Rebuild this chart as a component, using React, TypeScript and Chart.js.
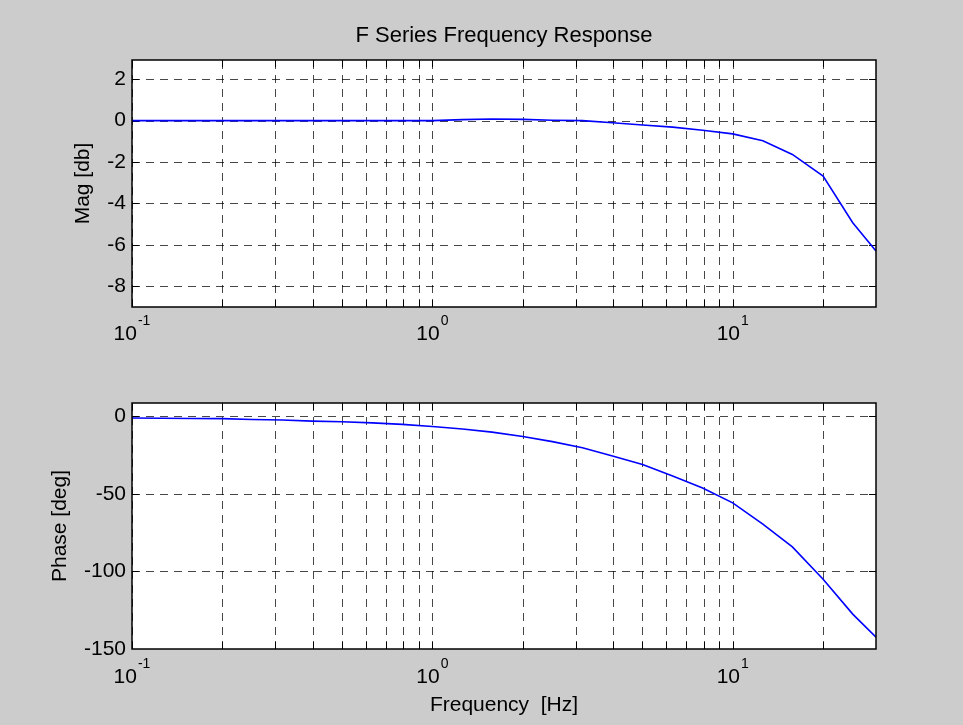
import React, { useEffect, useRef } from 'react';
import { Chart, registerables } from 'chart.js';

Chart.register(...registerables);

const FONT = '"Liberation Sans", Arial, Helvetica, sans-serif';

const TITLE = 'F Series Frequency Response';
const MAG_LABEL = 'Mag [db]';
const PHASE_LABEL = 'Phase [deg]';
const X_LABEL = 'Frequency  [Hz]';

// Data (log-spaced frequency samples)
const frequencyHz = [
  0.1, 0.126, 0.158, 0.2, 0.251, 0.316, 0.398, 0.501, 0.631, 0.794,
  1.0, 1.26, 1.58, 2.0, 2.51, 3.16, 3.98, 5.01, 6.31, 7.94,
  10, 12.6, 15.8, 20, 25.1, 30,
];
const magnitudeDb = [
  0, 0, 0, 0, 0, 0, 0, 0, 0, 0,
  0, 0.05, 0.08, 0.06, 0.02, 0.0, -0.1, -0.21, -0.31, -0.46,
  -0.64, -0.97, -1.63, -2.68, -4.93, -6.29,
];
const phaseDeg = [
  -1.1, -1.2, -1.4, -1.5, -2.0, -2.4, -3.1, -3.5, -4.2, -5.2,
  -6.6, -8.2, -10.2, -13, -16.3, -20.3, -25.6, -31.1, -38.5, -46.2,
  -55.8, -69.5, -84.2, -105, -127.5, -142.3,
];

const xGridTicks = [
  0.1, 0.2, 0.3, 0.4, 0.5, 0.6, 0.7, 0.8, 0.9,
  1, 2, 3, 4, 5, 6, 7, 8, 9,
  10, 20, 30,
];
const xDecadeValues = [0.1, 1, 10];
const xDecadeExponents = ['-1', '0', '1'];
const magTicks = [-8, -6, -4, -2, 0, 2];
const phaseTicks = [-150, -100, -50, 0];

const X_MIN = 0.1;
const X_MAX = 30;
const MAG_MIN = -9;
const MAG_MAX = 2.93;
const PHASE_MIN = -150;
const PHASE_MAX = 8.6;

const W = 963;
const H = 725;
const PLOT_LEFT = 132;
const PLOT_RIGHT = 876;

type PanelOpts = {
  top: number;
  bottom: number;
  yMin: number;
  yMax: number;
  yTicks: number[];
  values: number[];
  yLabel: string;
  yLabelBaselineX: number;
  decadeBaseline: number;
  showTitle: boolean;
  showXLabel: boolean;
};

function drawPower(ctx: CanvasRenderingContext2D, cx: number, baseline: number, exp: string) {
  ctx.font = `21px ${FONT}`;
  const wb = ctx.measureText('10').width;
  ctx.font = `14px ${FONT}`;
  const we = ctx.measureText(exp).width;
  const total = wb + 1 + we;
  const left = cx - total / 2;
  ctx.textAlign = 'left';
  ctx.textBaseline = 'alphabetic';
  ctx.font = `21px ${FONT}`;
  ctx.fillText('10', left, baseline);
  ctx.font = `14px ${FONT}`;
  ctx.fillText(exp, left + wb + 1, baseline - 15);
}

function makePlugin(p: PanelOpts) {
  return {
    id: 'matlabAxes',
    beforeDraw(chart: any) {
      const { ctx, chartArea: a } = chart;
      ctx.save();
      ctx.fillStyle = '#ffffff';
      ctx.fillRect(a.left, a.top, a.right - a.left, a.bottom - a.top);
      ctx.restore();
    },
    beforeDatasetsDraw(chart: any) {
      const { ctx, chartArea: a } = chart;
      const xs = chart.scales.x;
      const ys = chart.scales.y;
      ctx.save();
      ctx.beginPath();
      ctx.rect(a.left, a.top, a.right - a.left, a.bottom - a.top);
      ctx.clip();
      ctx.strokeStyle = 'rgba(0,0,0,0.72)';
      ctx.lineWidth = 1;
      ctx.setLineDash([8, 6]);
      for (const v of xGridTicks) {
        const x = Math.round(xs.getPixelForValue(v)) + 0.5;
        ctx.beginPath();
        ctx.moveTo(x, a.bottom);
        ctx.lineTo(x, a.top);
        ctx.stroke();
      }
      for (const v of p.yTicks) {
        const y = Math.round(ys.getPixelForValue(v)) + 0.5;
        ctx.beginPath();
        ctx.moveTo(a.left, y);
        ctx.lineTo(a.right, y);
        ctx.stroke();
      }
      // inward tick marks
      ctx.setLineDash([]);
      ctx.strokeStyle = '#000000';
      const tl = 7;
      for (const v of xGridTicks) {
        const x = Math.round(xs.getPixelForValue(v)) + 0.5;
        ctx.beginPath();
        ctx.moveTo(x, a.bottom);
        ctx.lineTo(x, a.bottom - tl);
        ctx.moveTo(x, a.top);
        ctx.lineTo(x, a.top + tl);
        ctx.stroke();
      }
      for (const v of p.yTicks) {
        const y = Math.round(ys.getPixelForValue(v)) + 0.5;
        ctx.beginPath();
        ctx.moveTo(a.left, y);
        ctx.lineTo(a.left + tl, y);
        ctx.moveTo(a.right, y);
        ctx.lineTo(a.right - tl, y);
        ctx.stroke();
      }
      ctx.restore();
    },
    afterDatasetsDraw(chart: any) {
      const { ctx, chartArea: a } = chart;
      const xs = chart.scales.x;
      ctx.save();
      ctx.strokeStyle = '#000000';
      ctx.lineWidth = 1.5;
      ctx.strokeRect(a.left, a.top, a.right - a.left, a.bottom - a.top);

      ctx.fillStyle = '#000000';
      xDecadeValues.forEach((v, i) => {
        drawPower(ctx, xs.getPixelForValue(v), p.decadeBaseline, xDecadeExponents[i]);
      });

      // y axis label
      ctx.save();
      ctx.translate(p.yLabelBaselineX, (a.top + a.bottom) / 2);
      ctx.rotate(-Math.PI / 2);
      ctx.font = `21px ${FONT}`;
      ctx.textAlign = 'center';
      ctx.textBaseline = 'alphabetic';
      ctx.fillText(p.yLabel, 0, 0);
      ctx.restore();

      const cx = (a.left + a.right) / 2;
      if (p.showTitle) {
        ctx.font = `22px ${FONT}`;
        ctx.textAlign = 'center';
        ctx.textBaseline = 'alphabetic';
        ctx.fillText(TITLE, cx, 41.5);
      }
      if (p.showXLabel) {
        ctx.font = `21px ${FONT}`;
        ctx.textAlign = 'center';
        ctx.textBaseline = 'alphabetic';
        ctx.fillText(X_LABEL, cx, 711);
      }
      ctx.restore();
    },
  };
}

function Panel(p: PanelOpts) {
  const ref = useRef<HTMLCanvasElement | null>(null);
  useEffect(() => {
    if (!ref.current) return;
    const points = frequencyHz.map((f, i) => ({ x: f, y: p.values[i] }));
    const chart = new Chart(ref.current, {
      type: 'line',
      data: {
        datasets: [
          {
            data: points,
            borderColor: '#0000ff',
            borderWidth: 1.6,
            pointRadius: 0,
            tension: 0,
            fill: false,
          },
        ],
      },
      options: {
        responsive: false,
        animation: false,
        events: [],
        layout: { padding: { top: p.top, left: 0, right: W - PLOT_RIGHT, bottom: 0 } },
        plugins: { legend: { display: false }, tooltip: { enabled: false }, title: { display: false } },
        scales: {
          x: {
            type: 'logarithmic',
            min: X_MIN,
            max: X_MAX,
            afterBuildTicks: (s: any) => {
              s.ticks = xGridTicks.map((v) => ({ value: v }));
            },
            afterFit: (s: any) => {
              s.height = H - p.bottom;
            },
            ticks: { display: false },
            grid: { display: false },
            border: { display: false },
          },
          y: {
            type: 'linear',
            min: p.yMin,
            max: p.yMax,
            afterBuildTicks: (s: any) => {
              s.ticks = p.yTicks.map((v) => ({ value: v }));
            },
            afterFit: (s: any) => {
              s.width = PLOT_LEFT;
            },
            ticks: {
              color: '#000000',
              padding: 6,
              font: { family: FONT, size: 21 },
            },
            grid: { display: false, drawTicks: false },
            border: { display: false },
          },
        },
      } as any,
      plugins: [makePlugin(p)],
    });
    return () => chart.destroy();
  }, []);
  return (
    <canvas
      ref={ref}
      width={W}
      height={H}
      style={{ position: 'absolute', left: 0, top: 0, width: W, height: H }}
    />
  );
}

export default function App() {
  return (
    <div
      style={{
        position: 'fixed',
        left: 0,
        top: 0,
        width: W,
        height: H,
        background: '#cccccc',
        overflow: 'hidden',
      }}
    >
      <Panel
        top={60}
        bottom={307}
        yMin={MAG_MIN}
        yMax={MAG_MAX}
        yTicks={magTicks}
        values={magnitudeDb}
        yLabel={MAG_LABEL}
        yLabelBaselineX={89}
        decadeBaseline={340}
        showTitle={true}
        showXLabel={false}
      />
      <Panel
        top={403}
        bottom={649}
        yMin={PHASE_MIN}
        yMax={PHASE_MAX}
        yTicks={phaseTicks}
        values={phaseDeg}
        yLabel={PHASE_LABEL}
        yLabelBaselineX={66}
        decadeBaseline={683}
        showTitle={false}
        showXLabel={true}
      />
    </div>
  );
}
